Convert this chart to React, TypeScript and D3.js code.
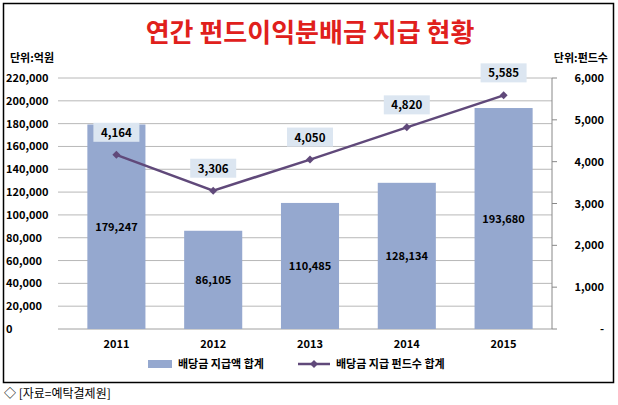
import React from "react";
import * as d3 from "d3";

const years = ["2011", "2012", "2013", "2014", "2015"];
const payout = [179247, 86105, 110485, 128134, 193680];
const fundCount = [4164, 3306, 4050, 4820, 5585];
const leftTicks = d3.range(0, 220001, 20000);
const rightTicks = d3.range(0, 6001, 1000);

const W = 618, H = 405;
const m = { left: 68, right: 552, top: 78, bottom: 329 };

export default function App() {
  const x = d3.scaleBand<string>().domain(years).range([m.left, m.right]).paddingInner(0.4).paddingOuter(0.2);
  const yL = d3.scaleLinear().domain([0, 220000]).range([m.bottom, m.top]);
  const yR = d3.scaleLinear().domain([0, 6000]).range([m.bottom, m.top]);
  const fmt = d3.format(",");
  const font = "'Malgun Gothic','Noto Sans CJK KR',sans-serif";
  const line = d3.line<number>().x((_, i) => x(years[i])! + x.bandwidth() / 2).y((d) => yR(d));
  const purple = "#60497a";
  return (
    <svg width={W} height={H} style={{ position: "absolute", left: 0, top: 0 }} fontFamily={font}>
      <rect x={0} y={0} width={W} height={H} fill="#fff" />
      <rect x={3.5} y={3.5} width={610} height={379} fill="none" stroke="#000" strokeWidth={1.5} />
      <text x={310} y={42} textAnchor="middle" fontSize={26} fontWeight="bold" fill="#e0201c">연간 펀드이익분배금 지급 현황</text>
      <text x={10} y={62} fontSize={11} fontWeight="bold">단위:억원</text>
      <text x={608} y={62} textAnchor="end" fontSize={11} fontWeight="bold">단위:펀드수</text>
      {leftTicks.map((t) => (
        <g key={t}>
          <line x1={58} x2={m.right} y1={yL(t)} y2={yL(t)} stroke={t === 0 ? "#888" : "#a6a6a6"} strokeWidth={0.8} />
          <text x={6} y={yL(t) + 4} fontSize={11} fontWeight="bold">{fmt(t)}</text>
        </g>
      ))}
      <line x1={m.right} x2={m.right} y1={m.top} y2={m.bottom} stroke="#888" />
      {rightTicks.map((t) => (
        <g key={t}>
          <line x1={m.right} x2={m.right + 5} y1={yR(t)} y2={yR(t)} stroke="#888" />
          <text x={604} y={yR(t) + 4} textAnchor="end" fontSize={11} fontWeight="bold">{t === 0 ? "-" : fmt(t)}</text>
        </g>
      ))}
      {years.map((yr, i) => (
        <g key={yr}>
          <rect x={x(yr)} y={yL(payout[i])} width={x.bandwidth()} height={m.bottom - yL(payout[i])} fill="#95a8cf" />
          <text x={x(yr)! + x.bandwidth() / 2} y={yL(payout[i] / 2) + 4} textAnchor="middle" fontSize={11} fontWeight="bold">{fmt(payout[i])}</text>
          <text x={x(yr)! + x.bandwidth() / 2} y={348} textAnchor="middle" fontSize={11} fontWeight="bold">{yr}</text>
        </g>
      ))}
      <path d={line(fundCount)!} fill="none" stroke={purple} strokeWidth={2.5} />
      {fundCount.map((v, i) => {
        const cx = x(years[i])! + x.bandwidth() / 2, cy = yR(v);
        return (
          <g key={i}>
            <path d={`M${cx},${cy - 4}L${cx + 4},${cy}L${cx},${cy + 4}L${cx - 4},${cy}Z`} fill={purple} />
            <rect x={cx - 23} y={cy - 32} width={46} height={19} fill="#dce6f1" />
            <text x={cx} y={cy - 18} textAnchor="middle" fontSize={11.5} fontWeight="bold">{fmt(v)}</text>
          </g>
        );
      })}
      <rect x={148} y={360} width={24} height={8} fill="#95a8cf" />
      <text x={178} y={368} fontSize={11} fontWeight="bold">배당금 지급액 합계</text>
      <line x1={298} x2={330} y1={364} y2={364} stroke={purple} strokeWidth={2.5} />
      <path d="M314,360L318,364L314,368L310,364Z" fill={purple} />
      <text x={336} y={368} fontSize={11} fontWeight="bold">배당금 지급 펀드수 합계</text>
      <text x={4} y={398} fontSize={12}>◇ [자료=예탁결제원]</text>
    </svg>
  );
}
